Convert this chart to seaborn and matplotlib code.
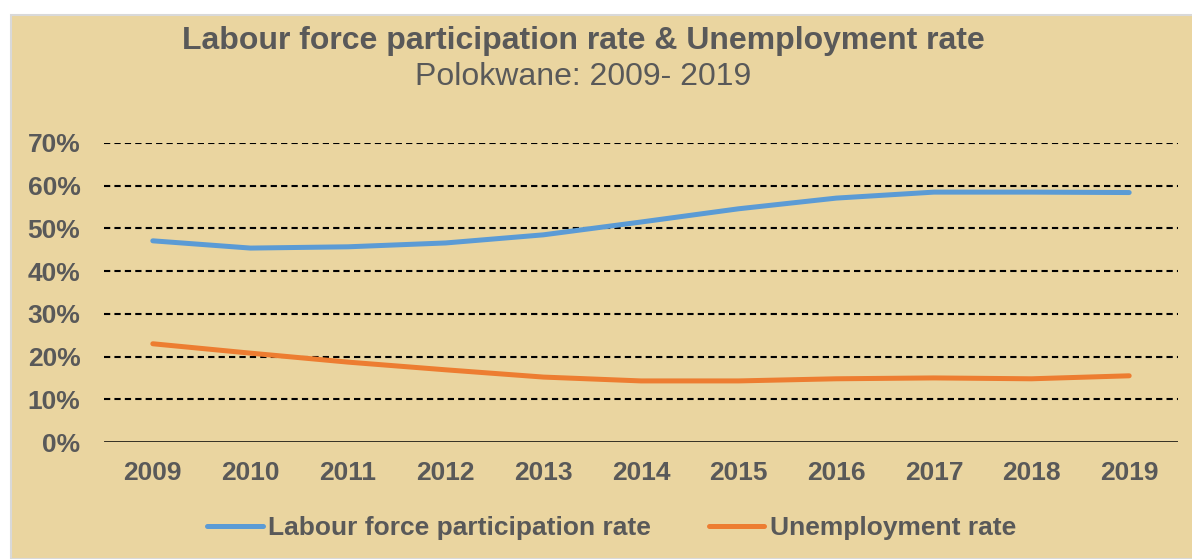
import matplotlib
matplotlib.use("Agg")
import matplotlib.pyplot as plt
import matplotlib.patches as mpatches
import matplotlib.ticker as mticker
import pandas as pd
import seaborn as sns

# Data
years = ["2009", "2010", "2011", "2012", "2013", "2014", "2015", "2016", "2017", "2018", "2019"]
participation = [0.471, 0.454, 0.457, 0.466, 0.485, 0.515, 0.546, 0.571, 0.585, 0.585, 0.584]
unemployment = [0.230, 0.208, 0.187, 0.169, 0.152, 0.143, 0.143, 0.148, 0.150, 0.148, 0.155]

series_names = ["Labour force participation rate", "Unemployment rate"]
series_colors = ["#5B9BD5", "#ED7D31"]

df = pd.DataFrame({
    "year": years * 2,
    "rate": participation + unemployment,
    "series": [series_names[0]] * len(years) + [series_names[1]] * len(years),
})

sns.set_style("white")
plt.rcParams["font.family"] = ["Liberation Sans", "DejaVu Sans"]

text_col = "#595959"
bg_col = "#EAD5A0"
fs = 19

fig = plt.figure(figsize=(11.92, 5.59), dpi=100, facecolor="white")

# parchment-like panel behind the chart
fig.patches.append(mpatches.Rectangle((11 / 1192, 0), 1, 1 - 15 / 559,
                                      transform=fig.transFigure, facecolor=bg_col,
                                      edgecolor="#D9D9D9", linewidth=1.5, zorder=-10))

ax = fig.add_axes([104 / 1192, 1 - 442 / 559, (1178 - 104) / 1192, (442 - 143) / 559])
ax.set_facecolor("none")
ax.set_zorder(2)

sns.lineplot(data=df, x="year", y="rate", hue="series", palette=series_colors,
             linewidth=3.6, ax=ax, legend=False, sort=False, zorder=3)

ax.set_xlim(-0.5, len(years) - 0.5)
ax.set_ylim(0, 0.7)
ax.set_yticks([i / 10 for i in range(8)])
ax.yaxis.set_major_formatter(mticker.PercentFormatter(1.0, decimals=0))

# dashed gridlines, solid baseline
for v in [i / 10 for i in range(1, 8)]:
    ax.axhline(v, color="black", linestyle=(0, (3, 2)), linewidth=1.5, zorder=1)
ax.axhline(0, color="black", linewidth=1.8, zorder=1)

for s in ax.spines.values():
    s.set_visible(False)

ax.set_xlabel("")
ax.set_ylabel("")
ax.tick_params(axis="both", length=0, labelsize=fs, labelcolor=text_col)
ax.tick_params(axis="y", pad=17)
ax.tick_params(axis="x", pad=14)
for lbl in ax.get_xticklabels() + ax.get_yticklabels():
    lbl.set_fontweight("bold")

fig.text(0.489, 1 - 41 / 559, "Labour force participation rate & Unemployment rate",
         ha="center", va="center", fontsize=23, fontweight="bold", color=text_col)
fig.text(0.489, 1 - 77 / 559, "Polokwane: 2009- 2019",
         ha="center", va="center", fontsize=23, color=text_col)

handles = [plt.Line2D([], [], color=c, linewidth=3.6) for c in series_colors]
leg = fig.legend(handles, series_names, loc="center", bbox_to_anchor=(0.513, 1 - 528 / 559),
                 ncol=2, frameon=False, handlelength=2.1, handletextpad=0.2,
                 columnspacing=2.2, prop={"weight": "bold", "size": fs})
for t in leg.get_texts():
    t.set_color(text_col)

fig.savefig("out.png", dpi=100, facecolor="white")
